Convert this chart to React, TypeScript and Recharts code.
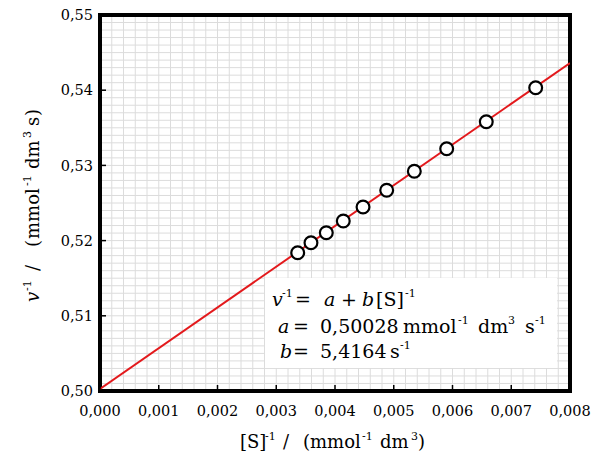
import React from 'react';
import { ComposedChart, Scatter, Line, XAxis, YAxis, CartesianGrid, ReferenceArea, Label } from 'recharts';

// Lineweaver-Burk data: [S]^-1 (mmol^-1 dm^3) and v^-1 (mmol^-1 dm^3 s)
const invS = [0.003365, 0.003591, 0.003852, 0.004141, 0.004477, 0.00488, 0.00535, 0.005901, 0.006575, 0.007416];
const invV = [0.51839, 0.51972, 0.52105, 0.52261, 0.52447, 0.52669, 0.52922, 0.53222, 0.53581, 0.54033];

// fit coefficients shown in the box
const fitA = 0.50028;
const fitB = 5.4164;

const xTicks = [0, 0.001, 0.002, 0.003, 0.004, 0.005, 0.006, 0.007, 0.008];
const yTicks = [0.5, 0.51, 0.52, 0.53, 0.54, 0.55];
const xMinor = Array.from({ length: 41 }, (_, i) => +(i * 0.0002).toFixed(4));
const yMinor = Array.from({ length: 51 }, (_, i) => +(0.5 + i * 0.001).toFixed(3));

const points = invS.map((x, i) => ({ x, y: invV[i] }));
const fitLine = [0, 0.008].map(x => ({ x, y: fitA + fitB * x }));

const FONT = 'DejaVu Serif';

const comma = (v: number, d: number) => v.toFixed(d).replace('.', ',');

// at = offset along the baseline from the start of the text
type Piece = { t: string; at: number; it?: boolean; sup?: boolean };

const MathText = ({ x, y, size, supSize, rise, pieces, transform }: any) => (
    <text x={x} y={y} fill="#000" transform={transform} fontFamily={FONT} fontSize={size}>
        {(pieces as Piece[]).map((p, i) => (
            <tspan key={i} x={x + p.at} y={p.sup ? y - rise : y} fontSize={p.sup ? supSize : size} fontStyle={p.it ? 'italic' : 'normal'}>
                {p.t}
            </tspan>
        ))}
    </text>
);

const xLabelPieces: Piece[] = [
    { t: '[S]', at: 0 }, { t: '-1', sup: true, at: 25 }, { t: '/', at: 43 }, { t: '(', at: 63 }, { t: 'mmol', at: 70 },
    { t: '-1', sup: true, at: 122 }, { t: 'dm', at: 140 }, { t: '3', sup: true, at: 171 }, { t: ')', at: 178 },
];
const yLabelPieces: Piece[] = [
    { t: 'v', it: true, at: 0 }, { t: '-1', sup: true, at: 11 }, { t: '/', at: 31 }, { t: '(', at: 55 }, { t: 'mmol', at: 63 },
    { t: '-1', sup: true, at: 116 }, { t: 'dm', at: 133 }, { t: '3', sup: true, at: 164 }, { t: 's', at: 176 }, { t: ')', at: 186 },
];

const XLabel = () => <MathText x={240} y={448} size={18} supSize={11} rise={8} pieces={xLabelPieces} />;

const YLabel = () => <MathText x={39} y={302} size={18} supSize={11} rise={8} pieces={yLabelPieces} transform="rotate(-90 39 302)" />;

const Dot = (p: any) => <circle cx={p.cx} cy={p.cy} r={6.4} fill="#fff" stroke="#000" strokeWidth={2.2} />;

const line1: Piece[] = [
    { t: 'v', it: true, at: 0 }, { t: '-1', sup: true, at: 10 }, { t: '=', at: 23 }, { t: 'a', it: true, at: 52 },
    { t: '+', at: 69 }, { t: 'b', it: true, at: 90 }, { t: '[S]', at: 104 }, { t: '-1', sup: true, at: 133 },
];
const line2: Piece[] = [
    { t: 'a', it: true, at: 0 }, { t: '=', at: 15 }, { t: comma(fitA, 5), at: 42 }, { t: 'mmol', at: 125 },
    { t: '-1', sup: true, at: 180 }, { t: 'dm', at: 200 }, { t: '3', sup: true, at: 230 }, { t: 's', at: 247 },
    { t: '-1', sup: true, at: 257 },
];
const line3: Piece[] = [
    { t: 'b', it: true, at: 0 }, { t: '=', at: 13 }, { t: comma(fitB, 4), at: 40 }, { t: 's', at: 110 }, { t: '-1', sup: true, at: 120 },
];

const tickStyle = { fill: '#000', fontSize: 14.5, fontFamily: FONT };

export default function App() {
    return (
        <div style={{ position: 'absolute', left: 0, top: 0, width: 599, height: 457, background: '#fff' }}>
            <ComposedChart width={599} height={457} margin={{ top: 15, right: 29, bottom: 0, left: 0 }}>
                <XAxis xAxisId="minor" type="number" dataKey="x" domain={[0, 0.008]} ticks={xMinor} interval={0} allowDataOverflow hide />
                <YAxis yAxisId="minor" type="number" dataKey="y" domain={[0.5, 0.55]} ticks={yMinor} interval={0} allowDataOverflow hide />
                <CartesianGrid xAxisId="minor" yAxisId="minor" stroke="#dcdcdc" strokeWidth={1} />
                <XAxis
                    type="number"
                    dataKey="x"
                    domain={[0, 0.008]}
                    ticks={xTicks}
                    interval={0}
                    allowDataOverflow
                    height={66}
                    axisLine={false}
                    tickSize={-6}
                    tickMargin={21}
                    tickLine={{ stroke: '#000', strokeWidth: 1.5 }}
                    tick={tickStyle}
                    tickFormatter={(v) => comma(v, 3)}
                >
                    <Label content={XLabel} />
                </XAxis>
                <YAxis
                    type="number"
                    dataKey="y"
                    domain={[0.5, 0.55]}
                    ticks={yTicks}
                    interval={0}
                    allowDataOverflow
                    width={100}
                    axisLine={false}
                    tickSize={-6}
                    tickMargin={13}
                    tickLine={{ stroke: '#000', strokeWidth: 1.5 }}
                    tick={tickStyle}
                    tickFormatter={(v) => comma(v, 2)}
                >
                    <Label content={YLabel} />
                </YAxis>
                <Line data={fitLine} dataKey="y" stroke="#e3191c" strokeWidth={2} dot={false} activeDot={false} isAnimationActive={false} />
                <Scatter data={points} shape={Dot} isAnimationActive={false} />
                <ReferenceArea x1={0} x2={0.008} y1={0.5} y2={0.55} fill="none" stroke="#000" strokeWidth={4} ifOverflow="visible" />
            </ComposedChart>
            <svg width={599} height={457} style={{ position: 'absolute', left: 0, top: 0, pointerEvents: 'none' }}>
                <rect x={265} y={278} width={292} height={90} fill="#fff" />
                <MathText x={272} y={306} size={19} supSize={11} rise={9} pieces={line1} />
                <MathText x={278} y={333} size={19} supSize={11} rise={9} pieces={line2} />
                <MathText x={280} y={358} size={19} supSize={11} rise={9} pieces={line3} />
            </svg>
        </div>
    );
}
